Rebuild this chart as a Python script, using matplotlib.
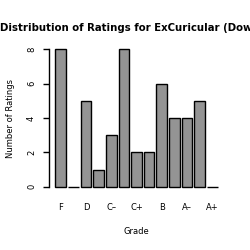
import matplotlib
matplotlib.use('Agg')
import numpy as np
import matplotlib.pyplot as plt

grades = ['F', 'D-', 'D', 'D+', 'C-', 'C', 'C+', 'B-', 'B', 'B+', 'A-', 'A', 'A+']
counts = [8, 0, 5, 1, 3, 8, 2, 2, 6, 4, 4, 5, 0]
shown_labels = ['F', '', 'D', '', 'C\u2013', '', 'C+', '', 'B', '', 'A\u2013', '', 'A+']
y_ticks = [0, 2, 4, 6, 8]

plt.rcParams['font.family'] = ['DejaVu Sans']

W = H = 250.0
fig = plt.figure(figsize=(2.5, 2.5), dpi=100)
# plot region in pixels
left, right, top, bottom = 49, 224, 43.8, 192.2
ax = fig.add_axes([left / W, 1 - bottom / H, (right - left) / W, (bottom - top) / H])

x = np.arange(len(grades))
ax.bar(x, counts, width=0.85, color='#949494', edgecolor='black', linewidth=1.0)
ax.set_xlim(-0.94, 12.94)
ax.set_ylim(-0.32, 8.32)

for s in ['top', 'right', 'bottom']:
    ax.spines[s].set_visible(False)
ax.spines['left'].set_bounds(0, 8)
ax.spines['left'].set_linewidth(1.0)

ax.set_yticks(y_ticks)
ax.set_yticklabels([str(v) for v in y_ticks], rotation=90, va='center', fontsize=6)
ax.tick_params(axis='y', length=4.3, width=1.0, pad=5)
ax.set_xticks(x)
ax.set_xticklabels(shown_labels, fontsize=6)
ax.tick_params(axis='x', length=0, pad=8)

# title is wider than the figure in the original and runs off both edges
fig.text(0 / W, 1 - 30.7 / H, 'Distribution of Ratings for ExCuricular (Download)',
         ha='left', va='baseline', fontsize=7.32, fontweight='bold')
fig.text(136 / W, 1 - 234.5 / H, 'Grade', ha='center', va='baseline', fontsize=6)
fig.text(11 / W, 1 - 118 / H, 'Number of Ratings', ha='center', va='center',
         rotation=90, fontsize=6)

fig.savefig('out.png', dpi=100)
